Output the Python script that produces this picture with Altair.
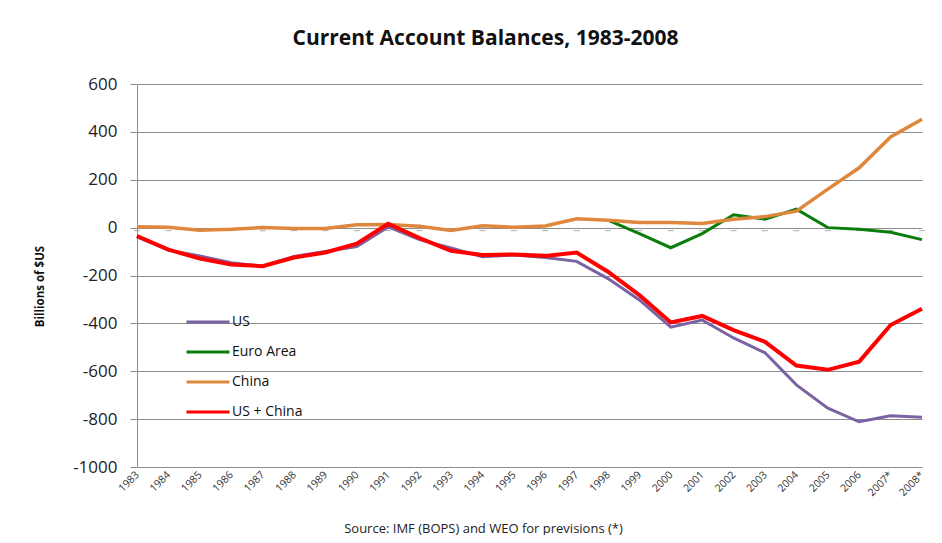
import altair as alt
import pandas as pd

years = ["1983", "1984", "1985", "1986", "1987", "1988", "1989", "1990", "1991",
         "1992", "1993", "1994", "1995", "1996", "1997", "1998", "1999", "2000",
         "2001", "2002", "2003", "2004", "2005", "2006", "2007*", "2008*"]

us = [-39, -94, -118, -147, -161, -121, -100, -79, 3, -50, -85, -122, -114,
      -125, -141, -213, -302, -416, -386, -461, -523, -657, -754, -811, -786, -792]
china = [4, 2, -11, -7, 0, -4, -4, 12, 13, 6, -12, 8, 2,
         7, 37, 31, 21, 21, 17, 35, 46, 69, 161, 250, 379, 453]
us_china = [-35, -92, -129, -154, -161, -125, -104, -67, 16, -44, -97, -114, -112,
            -118, -104, -184, -282, -396, -369, -428, -477, -576, -594, -560, -407, -339]
euro_years = ["1998", "1999", "2000", "2001", "2002", "2003", "2004", "2005",
              "2006", "2007*", "2008*"]
euro = [31, -25, -84, -25, 54, 35, 77, 0, -7, -19, -50]

series_order = ["US", "Euro Area", "China", "US + China"]
colors = ["#7b62a3", "#0b7d0b", "#e0873e", "#ff0000"]
widths = [3, 3, 3.5, 4]
y_ticks = [600, 400, 200, 0, -200, -400, -600, -800, -1000]

rows = []
for y, v in zip(years, us):
    rows.append({"year": y, "value": v, "series": "US"})
for y, v in zip(euro_years, euro):
    rows.append({"year": y, "value": v, "series": "Euro Area"})
for y, v in zip(years, china):
    rows.append({"year": y, "value": v, "series": "China"})
for y, v in zip(years, us_china):
    rows.append({"year": y, "value": v, "series": "US + China"})
df = pd.DataFrame(rows)
df_years = pd.DataFrame({"year": years})

FONT = "Open Sans"

x_enc = alt.X(
    "year:N", sort=years,
    scale=alt.Scale(type="point", padding=0),
    axis=alt.Axis(
        title="Source: IMF (BOPS) and WEO for previsions (*)",
        titleFont=FONT, titleFontSize=13, titleFontWeight="normal", titleColor="#222",
        titleX=346, titleY=61, titleBaseline="middle", titleAlign="center",
        labelAngle=315, labelAlign="right", labelBaseline="middle",
        labelFont=FONT, labelFontSize=10.5, labelColor="#333", labelPadding=6,
        ticks=False, domain=False, grid=False, labelOverlap=False,
    ),
)
y_enc = alt.Y(
    "value:Q",
    scale=alt.Scale(domain=[-1000, 600], nice=False),
    axis=alt.Axis(
        title="Billions of $US", values=y_ticks,
        labelExpr="'' + datum.value",
        titleFont=FONT, titleFontSize=11.5, titleFontWeight="bold", titleColor="#111",
        titleX=-97, titleY=202, titleAngle=270, titleBaseline="middle", titleAlign="center",
        labelFont=FONT, labelFontSize=17, labelColor="#222", labelPadding=13,
        tickSize=7, tickColor="#8c8c8c", domainColor="#8c8c8c",
        grid=True, gridColor="#8c8c8c", gridWidth=1,
    ),
)

zero_ticks = alt.Chart(df_years).mark_tick(
    size=6, thickness=1, yOffset=3, color="#8c8c8c"
).encode(x=x_enc, y=alt.Y(datum=0))

color_scale = alt.Scale(domain=series_order, range=colors)
layers = [zero_ticks]
for s, w in zip(series_order, widths):
    layers.append(
        alt.Chart(df).transform_filter(alt.datum.series == s).mark_line(strokeWidth=w).encode(
            x=x_enc, y=y_enc,
            color=alt.Color(
                "series:N", scale=color_scale,
                legend=alt.Legend(
                    title=None, orient="none", legendX=48, legendY=215,
                    symbolType="stroke", symbolSize=1849, symbolStrokeWidth=3,
                    labelFont=FONT, labelFontSize=14, labelColor="#111",
                    rowPadding=-13.5, padding=0, labelOffset=1,
                ),
            ),
        )
    )

chart = alt.layer(*layers).properties(
    width=785, height=383,
    autosize=alt.AutoSizeParams(type="none"),
    padding={"left": 129, "top": 76, "right": 12, "bottom": 68},
    title=alt.TitleParams(
        "Current Account Balances, 1983-2008", font=FONT, fontSize=21,
        fontWeight="bold", color="#111", anchor="middle", dx=-44, offset=26,
    ),
).configure_view(strokeWidth=0)

chart.save("out.html", embed_options={"renderer": "svg", "actions": False})
